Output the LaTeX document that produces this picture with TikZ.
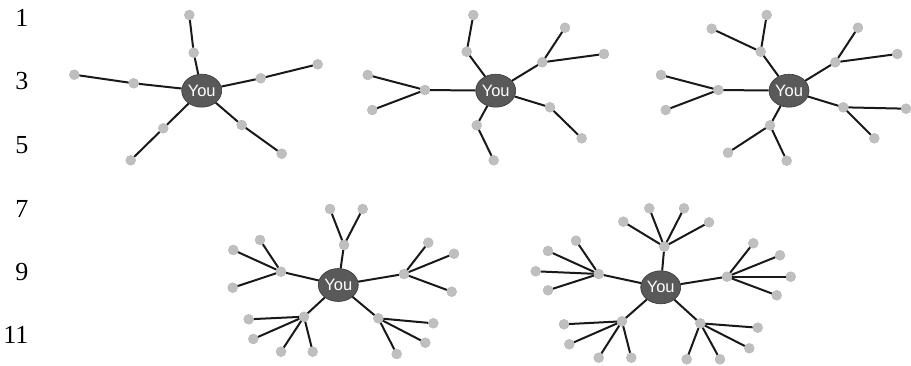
\documentclass[tikz,border=0pt]{standalone}
\usepackage{fontspec}
\setmainfont{Liberation Serif}
\newfontfamily\labelfont{Liberation Sans}
\usetikzlibrary{shapes.geometric, positioning}

\begin{document}
\begin{tikzpicture}[
    x=1pt, y=-1pt,
    you/.style={ellipse, draw=black!78, line width=0.6pt, fill=black!65, text=white, minimum width=40pt, minimum height=33pt, inner sep=0pt, font=\labelfont\fontsize{16.5}{16.5}\selectfont},
    dot/.style={circle, fill=black!25, draw=black!30, line width=0.3pt, minimum size=10pt, inner sep=0pt},
    link/.style={line width=2pt, black!90},
    rowno/.style={anchor=east, inner sep=0pt, font=\fontsize{26}{26}\selectfont}
]
\useasboundingbox (0,0) rectangle (911,366);

% row numbers
\node[rowno] (n1) at (28.5,18.3) {1};
\node[rowno] (n3) at (28.5,81) {3};
\node[rowno] (n5) at (28.5,145) {5};
\node[rowno] (n7) at (28.5,208.5) {7};
\node[rowno] (n9) at (28.5,272.5) {9};
\node[rowno] (n11) at (28.5,335) {11};

% first graph
\node[you] (g1you) at (201.7,90.7) {You};
\node[dot] (g1a) at (193.7,52.7) {};  \node[dot] (g1a1) at (189.3,15) {};
\node[dot] (g1b) at (133.7,83.3) {};  \node[dot] (g1b1) at (74.3,74.7) {};
\node[dot] (g1c) at (260.7,78.3) {};  \node[dot] (g1c1) at (317.7,64.3) {};
\node[dot] (g1d) at (163.3,128.3) {}; \node[dot] (g1d1) at (130.7,160.3) {};
\node[dot] (g1e) at (241.7,125) {};   \node[dot] (g1e1) at (281.7,153.7) {};

\draw[link] (g1you) -- (g1a) -- (g1a1);
\draw[link] (g1you) -- (g1b) -- (g1b1);
\draw[link] (g1you) -- (g1c) -- (g1c1);
\draw[link] (g1you) -- (g1d) -- (g1d1);
\draw[link] (g1you) -- (g1e) -- (g1e1);

% second graph
\node[you] (g2you) at (495.7,90.7) {You};
\node[dot] (g2a) at (466.7,51.7) {};  \node[dot] (g2a1) at (473.3,15) {};
\node[dot] (g2b) at (425,90) {};      \node[dot] (g2b1) at (367.7,75) {};  \node[dot] (g2b2) at (372.3,110) {};
\node[dot] (g2c) at (542.3,62.3) {};  \node[dot] (g2c1) at (565,27.7) {};  \node[dot] (g2c2) at (604,54) {};
\node[dot] (g2d) at (550,107.3) {};   \node[dot] (g2d1) at (581.7,138.3) {};
\node[dot] (g2e) at (476.7,125.3) {}; \node[dot] (g2e1) at (493.7,160.3) {};

\draw[link] (g2you) -- (g2a) -- (g2a1);
\draw[link] (g2you) -- (g2b) -- (g2b1);
\draw[link] (g2b) -- (g2b2);
\draw[link] (g2you) -- (g2c) -- (g2c1);
\draw[link] (g2c) -- (g2c2);
\draw[link] (g2you) -- (g2d) -- (g2d1);
\draw[link] (g2you) -- (g2e) -- (g2e1);

% third graph
\node[you] (g3you) at (789,90.7) {You};
\node[dot] (g3a) at (760.7,51.7) {};  \node[dot] (g3a1) at (766.7,15) {};   \node[dot] (g3a2) at (711.7,28.7) {};
\node[dot] (g3b) at (718.3,90) {};    \node[dot] (g3b1) at (661,75) {};     \node[dot] (g3b2) at (665.7,110) {};
\node[dot] (g3c) at (835.3,62.3) {};  \node[dot] (g3c1) at (858,27.7) {};   \node[dot] (g3c2) at (897.3,54) {};
\node[dot] (g3d) at (843.3,107.3) {}; \node[dot] (g3d1) at (906,108.7) {};  \node[dot] (g3d2) at (874.3,138.3) {};
\node[dot] (g3e) at (770,125.3) {};   \node[dot] (g3e1) at (786.7,160.7) {}; \node[dot] (g3e2) at (728,152.7) {};

\draw[link] (g3you) -- (g3a) -- (g3a1);
\draw[link] (g3a) -- (g3a2);
\draw[link] (g3you) -- (g3b) -- (g3b1);
\draw[link] (g3b) -- (g3b2);
\draw[link] (g3you) -- (g3c) -- (g3c1);
\draw[link] (g3c) -- (g3c2);
\draw[link] (g3you) -- (g3d) -- (g3d1);
\draw[link] (g3d) -- (g3d2);
\draw[link] (g3you) -- (g3e) -- (g3e1);
\draw[link] (g3e) -- (g3e2);

% fourth graph
\node[you] (g4you) at (338.3,285) {You};
\node[dot] (g4a) at (344,245) {};     \node[dot] (g4a1) at (330,209) {};    \node[dot] (g4a2) at (362.7,209) {};
\node[dot] (g4b) at (281,271.7) {};   \node[dot] (g4b1) at (260,240) {};    \node[dot] (g4b2) at (233.3,250) {};  \node[dot] (g4b3) at (232.7,287.7) {};
\node[dot] (g4c) at (404,274) {};     \node[dot] (g4c1) at (428.3,242.7) {}; \node[dot] (g4c2) at (454,253.7) {}; \node[dot] (g4c3) at (451.7,291.7) {};
\node[dot] (g4d) at (304,316.7) {};   \node[dot] (g4d1) at (248.7,319.3) {}; \node[dot] (g4d2) at (253.3,339) {};
\node[dot] (g4d3) at (281,351.7) {};  \node[dot] (g4d4) at (312.7,351.7) {};
\node[dot] (g4e) at (378.3,318.3) {}; \node[dot] (g4e1) at (433.3,323.3) {}; \node[dot] (g4e2) at (425.3,342.7) {}; \node[dot] (g4e3) at (396.7,354) {};

\draw[link] (g4you) -- (g4a) -- (g4a1);
\draw[link] (g4a) -- (g4a2);
\draw[link] (g4you) -- (g4b) -- (g4b1);
\draw[link] (g4b) -- (g4b2);
\draw[link] (g4b) -- (g4b3);
\draw[link] (g4you) -- (g4c) -- (g4c1);
\draw[link] (g4c) -- (g4c2);
\draw[link] (g4c) -- (g4c3);
\draw[link] (g4you) -- (g4d) -- (g4d1);
\draw[link] (g4d) -- (g4d2);
\draw[link] (g4d) -- (g4d3);
\draw[link] (g4d) -- (g4d4);
\draw[link] (g4you) -- (g4e) -- (g4e1);
\draw[link] (g4e) -- (g4e2);
\draw[link] (g4e) -- (g4e3);

% fifth graph
\node[you] (g5you) at (660.7,287.3) {You};
\node[dot] (g5a) at (664.3,246.7) {};  \node[dot] (g5a1) at (623.3,221.7) {}; \node[dot] (g5a2) at (649.3,208.3) {};
\node[dot] (g5a3) at (684,208.3) {};   \node[dot] (g5a4) at (709,222.3) {};
\node[dot] (g5b) at (598.7,274) {};    \node[dot] (g5b1) at (576,240.7) {};   \node[dot] (g5b2) at (548,251) {};
\node[dot] (g5b3) at (535.7,271.3) {}; \node[dot] (g5b4) at (548,290.3) {};
\node[dot] (g5c) at (727,276.7) {};    \node[dot] (g5c1) at (753.3,243.3) {}; \node[dot] (g5c2) at (780,255.3) {};
\node[dot] (g5c3) at (790.7,276.7) {}; \node[dot] (g5c4) at (776.7,295.3) {};
\node[dot] (g5d) at (622,321.3) {};    \node[dot] (g5d1) at (564,324.3) {};   \node[dot] (g5d2) at (569.3,344.3) {};
\node[dot] (g5d3) at (598.7,357.7) {}; \node[dot] (g5d4) at (631.3,357.7) {};
\node[dot] (g5e) at (700.3,323.3) {};  \node[dot] (g5e1) at (757.7,327.7) {}; \node[dot] (g5e2) at (749.3,348.3) {};
\node[dot] (g5e3) at (720,359.3) {};   \node[dot] (g5e4) at (686.7,359.3) {};

\draw[link] (g5you) -- (g5a) -- (g5a1);
\draw[link] (g5a) -- (g5a2);
\draw[link] (g5a) -- (g5a3);
\draw[link] (g5a) -- (g5a4);
\draw[link] (g5you) -- (g5b) -- (g5b1);
\draw[link] (g5b) -- (g5b2);
\draw[link] (g5b) -- (g5b3);
\draw[link] (g5b) -- (g5b4);
\draw[link] (g5you) -- (g5c) -- (g5c1);
\draw[link] (g5c) -- (g5c2);
\draw[link] (g5c) -- (g5c3);
\draw[link] (g5c) -- (g5c4);
\draw[link] (g5you) -- (g5d) -- (g5d1);
\draw[link] (g5d) -- (g5d2);
\draw[link] (g5d) -- (g5d3);
\draw[link] (g5d) -- (g5d4);
\draw[link] (g5you) -- (g5e) -- (g5e1);
\draw[link] (g5e) -- (g5e2);
\draw[link] (g5e) -- (g5e3);
\draw[link] (g5e) -- (g5e4);

\end{tikzpicture}
\end{document}
